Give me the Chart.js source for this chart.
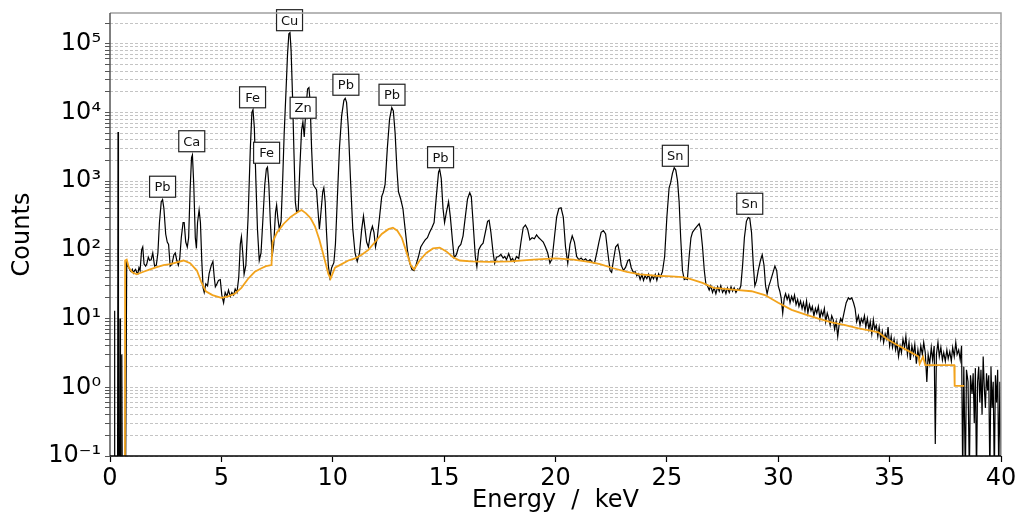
<!DOCTYPE html>
<html>
<head>
<meta charset="utf-8">
<script src="https://cdn.jsdelivr.net/npm/chart.js@4.4.1/dist/chart.umd.min.js"></script>
<style>
  html, body { margin: 0; padding: 0; background: #fff; }
  #wrap { width: 1021px; height: 518px; position: relative; }
</style>
</head>
<body>
<div id="wrap"><canvas id="chart"></canvas></div>
<script>
const energy = [
  0.10, 0.18, 0.20, 0.22, 0.30, 0.34, 0.36, 0.38, 0.43, 0.45,
  0.47, 0.51, 0.53, 0.55, 0.70, 0.75, 0.80, 0.85, 0.90, 0.95,
  1.00, 1.05, 1.10, 1.15, 1.20, 1.25, 1.30, 1.35, 1.42, 1.47,
  1.53, 1.60, 1.65, 1.72, 1.78, 1.85, 1.92, 2.00, 2.08, 2.15,
  2.22, 2.30, 2.36, 2.42, 2.50, 2.57, 2.63, 2.70, 2.78, 2.87,
  2.93, 3.00, 3.07, 3.13, 3.20, 3.28, 3.33, 3.40, 3.47, 3.53,
  3.60, 3.66, 3.70, 3.76, 3.83, 3.88, 3.93, 4.00, 4.06, 4.12,
  4.18, 4.23, 4.30, 4.38, 4.45, 4.55, 4.62, 4.68, 4.73, 4.80,
  4.87, 4.95, 5.02, 5.10, 5.17, 5.25, 5.32, 5.40, 5.47, 5.55,
  5.62, 5.70, 5.78, 5.85, 5.90, 5.96, 6.02, 6.10, 6.20, 6.30,
  6.37, 6.42, 6.48, 6.55, 6.62, 6.70, 6.78, 6.87, 6.95, 7.02,
  7.07, 7.13, 7.20, 7.28, 7.35, 7.43, 7.48, 7.53, 7.60, 7.68,
  7.75, 7.82, 7.90, 7.97, 8.03, 8.08, 8.13, 8.20, 8.26, 8.32,
  8.38, 8.45, 8.52, 8.60, 8.66, 8.72, 8.80, 8.87, 8.93, 8.98,
  9.05, 9.12, 9.18, 9.27, 9.33, 9.40, 9.47, 9.55, 9.60, 9.66,
  9.72, 9.80, 9.87, 9.95, 10.05, 10.12, 10.20, 10.30, 10.40, 10.50,
  10.56, 10.62, 10.70, 10.80, 10.90, 11.00, 11.10, 11.20, 11.30, 11.38,
  11.45, 11.52, 11.60, 11.70, 11.78, 11.85, 11.92, 12.00, 12.10, 12.20,
  12.27, 12.35, 12.45, 12.55, 12.65, 12.72, 12.80, 12.88, 12.95, 13.05,
  13.15, 13.25, 13.35, 13.45, 13.55, 13.65, 13.75, 13.85, 13.95, 14.05,
  14.15, 14.25, 14.35, 14.45, 14.55, 14.65, 14.75, 14.80, 14.87, 14.95,
  15.02, 15.10, 15.20, 15.28, 15.38, 15.45, 15.55, 15.65, 15.75, 15.85,
  15.95, 16.05, 16.15, 16.22, 16.30, 16.40, 16.47, 16.55, 16.65, 16.75,
  16.85, 16.95, 17.02, 17.10, 17.20, 17.27, 17.35, 17.45, 17.55, 17.65,
  17.72, 17.80, 17.90, 18.00, 18.07, 18.15, 18.25, 18.35, 18.45, 18.55,
  18.65, 18.75, 18.85, 18.95, 19.05, 19.15, 19.25, 19.35, 19.45, 19.55,
  19.65, 19.75, 19.85, 19.95, 20.05, 20.15, 20.25, 20.35, 20.45, 20.55,
  20.65, 20.75, 20.85, 20.95, 21.05, 21.15, 21.25, 21.35, 21.45, 21.55,
  21.65, 21.75, 21.85, 21.95, 22.05, 22.15, 22.25, 22.35, 22.45, 22.52,
  22.60, 22.70, 22.80, 22.88, 22.95, 23.05, 23.15, 23.25, 23.32, 23.40,
  23.50, 23.58, 23.65, 23.72, 23.80, 23.88, 23.95, 24.02, 24.10, 24.18,
  24.25, 24.33, 24.40, 24.48, 24.55, 24.63, 24.70, 24.80, 24.90, 25.00,
  25.10, 25.17, 25.25, 25.33, 25.40, 25.48, 25.55, 25.62, 25.70, 25.78,
  25.85, 25.92, 26.00, 26.08, 26.15, 26.25, 26.35, 26.45, 26.52, 26.60,
  26.68, 26.75, 26.82, 26.90, 26.97, 27.05, 27.12, 27.20, 27.28, 27.35,
  27.42, 27.50, 27.58, 27.65, 27.72, 27.80, 27.88, 27.95, 28.02, 28.10,
  28.18, 28.25, 28.32, 28.40, 28.48, 28.57, 28.65, 28.72, 28.80, 28.88,
  28.95, 29.02, 29.10, 29.20, 29.28, 29.36, 29.43, 29.50, 29.58, 29.65,
  29.75, 29.85, 29.93, 30.00, 30.07, 30.13, 30.20, 30.27, 30.33, 30.40,
  30.47, 30.53, 30.60, 30.67, 30.73, 30.80, 30.87, 30.93, 31.00, 31.07,
  31.13, 31.20, 31.27, 31.33, 31.40, 31.47, 31.53, 31.60, 31.67, 31.73,
  31.80, 31.87, 31.93, 32.00, 32.07, 32.13, 32.20, 32.27, 32.33, 32.40,
  32.47, 32.53, 32.60, 32.67, 32.73, 32.80, 32.87, 32.95, 33.05, 33.15,
  33.22, 33.30, 33.38, 33.45, 33.52, 33.60, 33.67, 33.73, 33.80, 33.87,
  33.93, 34.00, 34.07, 34.13, 34.20, 34.27, 34.33, 34.40, 34.47, 34.53,
  34.60, 34.67, 34.73, 34.80, 34.87, 34.93, 35.00, 35.07, 35.13, 35.20,
  35.27, 35.33, 35.40, 35.47, 35.53, 35.60, 35.67, 35.73, 35.80, 35.87,
  35.93, 36.00, 36.07, 36.13, 36.20, 36.27, 36.33, 36.40, 36.47, 36.53,
  36.60, 36.67, 36.73, 36.80, 36.87, 36.93, 37.00, 37.05, 37.10, 37.17,
  37.23, 37.30, 37.37, 37.43, 37.50, 37.57, 37.63, 37.70, 37.77, 37.83,
  37.90, 37.97, 38.03, 38.10, 38.17, 38.23, 38.28, 38.33, 38.40, 38.45,
  38.52, 38.58, 38.63, 38.70, 38.75, 38.80, 38.85, 38.90, 38.95, 39.00,
  39.05, 39.10, 39.15, 39.20, 39.25, 39.30, 39.35, 39.40, 39.45, 39.50,
  39.55, 39.60, 39.65, 39.70, 39.75, 39.80, 39.85, 39.90, 39.95, 40.00
];
const counts = [
  0.05, 0.05, 13, 0.05, 0.05, 0.05, 5200, 0.05, 0.05, 10,
  0.05, 0.05, 3, 0.05, 0.05, 65, 58, 55, 50, 48,
  52, 46, 50, 52, 47, 45, 55, 50, 100, 110,
  62, 58, 62, 78, 70, 72, 90, 58, 60, 90,
  250, 500, 540, 400, 170, 130, 120, 58, 62, 85,
  90, 70, 60, 75, 150, 250, 250, 130, 110, 150,
  800, 2200, 2400, 900, 150, 105, 250, 380, 250, 70,
  28, 24, 32, 30, 45, 60, 68, 40, 29, 32,
  36, 37, 22, 17, 24, 21, 26, 21, 24, 22,
  27, 24, 40, 120, 155, 90, 44, 60, 300, 3000,
  10000, 11000, 6000, 1000, 200, 70, 90, 300, 900, 1500,
  1600, 900, 250, 80, 120, 350, 450, 300, 200, 260,
  1000, 5000, 20000, 70000, 140000, 145000, 80000, 15000, 2500, 500,
  350, 380, 1500, 5500, 7300, 4400, 12000, 22000, 23000, 15000,
  3000, 900, 830, 750, 400, 200, 350, 700, 800, 500,
  180, 60, 40, 55, 65, 120, 500, 3000, 9000, 15000,
  16000, 14000, 6000, 1000, 200, 90, 68, 90, 200, 310,
  200, 130, 110, 180, 220, 180, 110, 150, 300, 600,
  690, 900, 3000, 8000, 11700, 10500, 5000, 1500, 700, 550,
  400, 200, 100, 65, 52, 50, 62, 80, 110, 125,
  140, 150, 180, 210, 250, 600, 1350, 1480, 1100, 400,
  250, 350, 500, 300, 130, 77, 85, 110, 120, 160,
  300, 550, 680, 600, 250, 80, 57, 100, 115, 125,
  180, 260, 270, 180, 90, 64, 78, 80, 86, 76,
  80, 72, 88, 70, 75, 67, 80, 75, 130, 210,
  230, 200, 140, 150, 145, 165, 150, 140, 130, 110,
  90, 64, 75, 150, 300, 400, 410, 300, 110, 64,
  120, 160, 130, 80, 72, 76, 70, 74, 68, 72,
  66, 64, 90, 130, 180, 190, 170, 90, 50, 47,
  70, 110, 120, 90, 60, 50, 56, 70, 72, 55,
  47, 48, 42, 45, 37, 44, 36, 42, 38, 44,
  35, 42, 38, 44, 36, 45, 40, 48, 80, 300,
  800, 950, 1300, 1570, 1450, 1000, 500, 150, 50, 37,
  38, 37, 80, 150, 180, 200, 220, 240, 200, 110,
  50, 32, 30, 26, 30, 24, 28, 23, 29, 25,
  30, 24, 27, 23, 28, 24, 29, 25, 28, 24,
  27, 26, 30, 60, 150, 260, 295, 290, 180, 60,
  30, 35, 50, 70, 85, 60, 30, 23, 30, 35,
  45, 58, 50, 30, 25, 20, 12, 20, 23, 19,
  22, 17, 21, 18, 22, 16, 19, 15, 18, 14,
  17, 13, 18, 12, 16, 13, 15, 11, 14, 12,
  15, 10, 13, 11, 14, 9, 12, 10, 8, 11,
  9.6, 7, 9, 5.5, 8, 10, 9, 12, 17, 20,
  19, 20, 17, 14, 9, 11, 8, 10, 8.7, 11,
  7.5, 10, 7, 9, 6, 9.6, 7, 8, 5.5, 7.5,
  5, 6.5, 4.5, 6, 5, 7.5, 4, 5.5, 3.8, 5,
  3.5, 4.5, 2.8, 4, 3.2, 5, 3.8, 5.5, 3, 4.5,
  2.5, 4, 3, 4.2, 2.2, 3.5, 2.5, 4, 3, 4.5,
  3.2, 1.2, 3, 2.2, 3.8, 2.5, 4, 0.15, 3, 4.5,
  2.8, 3.8, 2.5, 3.2, 2.4, 3.5, 2.6, 3.3, 2.4, 3.8,
  2.8, 4.5, 3, 3.5, 2.5, 4, 0.05, 2, 0.05, 1.8,
  1.2, 0.05, 1.5, 0.8, 1.6, 0.3, 1.9, 0.05, 1.2, 2,
  0.6, 1.8, 0.4, 2.8, 1, 0.5, 1.6, 0.9, 1.5, 0.05,
  2, 0.5, 1.2, 0.05, 1.5, 0.6, 1.8, 0.05, 1.2, 0.05
];

// fitted background (keV, counts)
const bgEnergy = [
  0.60, 0.67, 0.68, 0.75, 0.85, 1.0, 1.2, 1.5, 1.8, 2.1, 2.4, 2.7, 3.0, 3.3, 3.6,
  3.9, 4.1, 4.3, 4.6, 5.0, 5.3, 5.6, 5.9, 6.2, 6.5, 6.8, 7.0, 7.25, 7.3, 7.5,
  7.8, 8.1, 8.4, 8.6, 8.8, 9.0, 9.2, 9.4, 9.6, 9.8, 9.9, 10.1, 10.4, 10.7, 11.0,
  11.3, 11.6, 11.9, 12.2, 12.5, 12.7, 12.9, 13.1, 13.3, 13.5, 13.65, 13.9, 14.2, 14.5, 14.8,
  15.1, 15.4, 15.7, 16.2, 17.0, 18.0, 19.0, 20.0, 20.8, 21.5, 22.0, 22.6, 23.2, 23.8, 24.5,
  25.2, 25.7, 26.0, 26.6, 27.1, 27.6, 28.2, 28.8, 29.4, 30.0, 30.6, 31.2, 31.8, 32.4, 33.0,
  33.6, 34.2, 34.5, 34.9, 35.3, 35.9, 36.3, 36.35, 36.5, 36.6, 36.8, 37.9, 37.92, 38.35
];
const bgCounts = [
  0.05, 0.05, 70, 72, 55, 47, 44, 48, 52, 56, 60, 62, 66, 70, 64,
  50, 34, 25, 22, 20, 21, 23, 28, 38, 48, 54, 58, 60, 130, 180,
  240, 300, 350, 380, 340, 290, 220, 140, 80, 45, 38, 55, 62, 70, 75,
  85, 100, 130, 170, 200, 210, 190, 150, 95, 60, 52, 70, 90, 105, 108,
  95, 78, 70, 68, 67, 68, 72, 75, 72, 67, 62, 54, 48, 44, 42,
  41, 40, 38, 33, 28, 27, 26, 25, 22, 17, 13.4, 11.5, 10, 8.8, 8,
  7.2, 6.6, 6.3, 5, 4.2, 3.3, 2.8, 2.2, 2.8, 2.1, 2.1, 2.1, 1.05, 1.05
];

// element labels, box centre in data units
const peakNames = ['Pb', 'Ca', 'Fe', 'Fe', 'Cu', 'Zn', 'Pb', 'Pb', 'Pb', 'Sn', 'Sn'];
const peakEnergy = [2.36, 3.67, 6.40, 7.03, 8.06, 8.67, 10.59, 12.66, 14.84, 25.38, 28.72];
const peakCounts = [830, 3810, 16600, 2590, 220000, 11700, 25300, 18100, 2230, 2340, 469];

const xTicks = [0, 5, 10, 15, 20, 25, 30, 35, 40];
const yDecades = [-1, 0, 1, 2, 3, 4, 5];
const Y_MIN = 0.1;
const Y_MAX = 2.8e5;

const SUP = { '-': '\u207b', '0': '\u2070', '1': '\u00b9', '2': '\u00b2', '3': '\u00b3', '4': '\u2074', '5': '\u2075' };
const FONT = "'DejaVu Sans', sans-serif";

// gridline positions: 1..9 x each decade, inside the axis range
const yTickValues = [];
yDecades.forEach((e) => {
  for (let m = 1; m <= 9; m++) {
    const v = m * Math.pow(10, e);
    if (v <= Y_MAX) yTickValues.push(v);
  }
});

const toPoints = (xs, ys) => xs.map((x, i) => ({ x, y: ys[i] }));

const framePlugin = {
  id: 'frame',
  afterDraw(chart) {
    const { ctx, chartArea: a } = chart;
    ctx.save();
    ctx.lineWidth = 1.5;
    ctx.strokeStyle = '#a0a0a0';
    ctx.beginPath();
    ctx.moveTo(a.left, a.top);
    ctx.lineTo(a.right, a.top);
    ctx.lineTo(a.right, a.bottom);
    ctx.stroke();
    ctx.strokeStyle = '#555';
    ctx.beginPath();
    ctx.moveTo(a.left, a.top);
    ctx.lineTo(a.left, a.bottom);
    ctx.stroke();
    ctx.strokeStyle = '#000';
    ctx.beginPath();
    ctx.moveTo(a.left, a.bottom);
    ctx.lineTo(a.right, a.bottom);
    ctx.stroke();
    ctx.restore();
  },
};

const labelPlugin = {
  id: 'peakLabels',
  afterDatasetsDraw(chart) {
    const { ctx } = chart;
    const xs = chart.scales.x;
    const ys = chart.scales.y;
    ctx.save();
    ctx.font = `13px ${FONT}`;
    ctx.textAlign = 'center';
    ctx.textBaseline = 'middle';
    peakNames.forEach((name, i) => {
      const cx = xs.getPixelForValue(peakEnergy[i]);
      const cy = ys.getPixelForValue(peakCounts[i]);
      const w = 26;
      const h = 21;
      ctx.fillStyle = '#fff';
      ctx.fillRect(cx - w / 2, cy - h / 2, w, h);
      ctx.lineWidth = 1.2;
      ctx.strokeStyle = '#222';
      ctx.strokeRect(cx - w / 2, cy - h / 2, w, h);
      ctx.fillStyle = '#111';
      ctx.fillText(name, cx, cy + 1);
    });
    ctx.restore();
  },
};

new Chart(document.getElementById('chart'), {
  type: 'line',
  data: {
    datasets: [
      {
        label: 'Background',
        data: toPoints(bgEnergy, bgCounts),
        borderColor: '#f2a31c',
        borderWidth: 1.8,
        pointRadius: 0,
        tension: 0,
      },
      {
        label: 'Spectrum',
        data: toPoints(energy, counts),
        borderColor: '#000',
        borderWidth: 1.2,
        pointRadius: 0,
        tension: 0,
      },
    ],
  },
  options: {
    animation: false,
    responsive: true,
    maintainAspectRatio: false,
    layout: { padding: { top: 13, right: 20, left: 0, bottom: 0 } },
    plugins: {
      legend: { display: false },
      tooltip: { enabled: false },
    },
    scales: {
      x: {
        type: 'linear',
        min: 0,
        max: 40,
        afterBuildTicks: (scale) => { scale.ticks = xTicks.map((v) => ({ value: v })); },
        afterFit: (scale) => {
          scale.height = 62;
          scale.paddingLeft = 0;
          scale.paddingRight = 0;
        },
        ticks: {
          color: '#000',
          font: { family: FONT, size: 24 },
          padding: 2,
          maxRotation: 0,
          autoSkip: false,
        },
        grid: { drawOnChartArea: false, drawTicks: true, tickLength: 6, tickColor: '#000', tickWidth: 1.2 },
        border: { display: false },
        title: {
          display: true,
          text: 'Energy  /  keV',
          color: '#000',
          font: { family: FONT, size: 24 },
          padding: { top: 0, bottom: 3 },
        },
      },
      y: {
        type: 'logarithmic',
        min: Y_MIN,
        max: Y_MAX,
        afterBuildTicks: (scale) => { scale.ticks = yTickValues.map((v) => ({ value: v })); },
        afterFit: (scale) => {
          scale.width = 110;
          scale.paddingTop = 0;
          scale.paddingBottom = 0;
        },
        ticks: {
          color: '#000',
          font: { family: FONT, size: 24 },
          padding: 4,
          autoSkip: false,
          callback: (value) => {
            const e = Math.round(Math.log10(value));
            if (Math.abs(value - Math.pow(10, e)) > 1e-9 * Math.pow(10, e)) return '';
            return '10' + String(e).split('').map((c) => SUP[c]).join('');
          },
        },
        grid: {
          color: '#c4c4c4',
          lineWidth: 1,
          drawTicks: true,
          tickLength: 5,
          tickColor: '#555',
          tickWidth: 1,
          tickBorderDash: [],
        },
        border: { display: false, dash: [3, 2] },
        title: {
          display: true,
          text: 'Counts',
          color: '#000',
          font: { family: FONT, size: 24 },
          padding: { top: 8, bottom: 0 },
        },
      },
    },
  },
  plugins: [framePlugin, labelPlugin],
});
</script>
</body>
</html>
